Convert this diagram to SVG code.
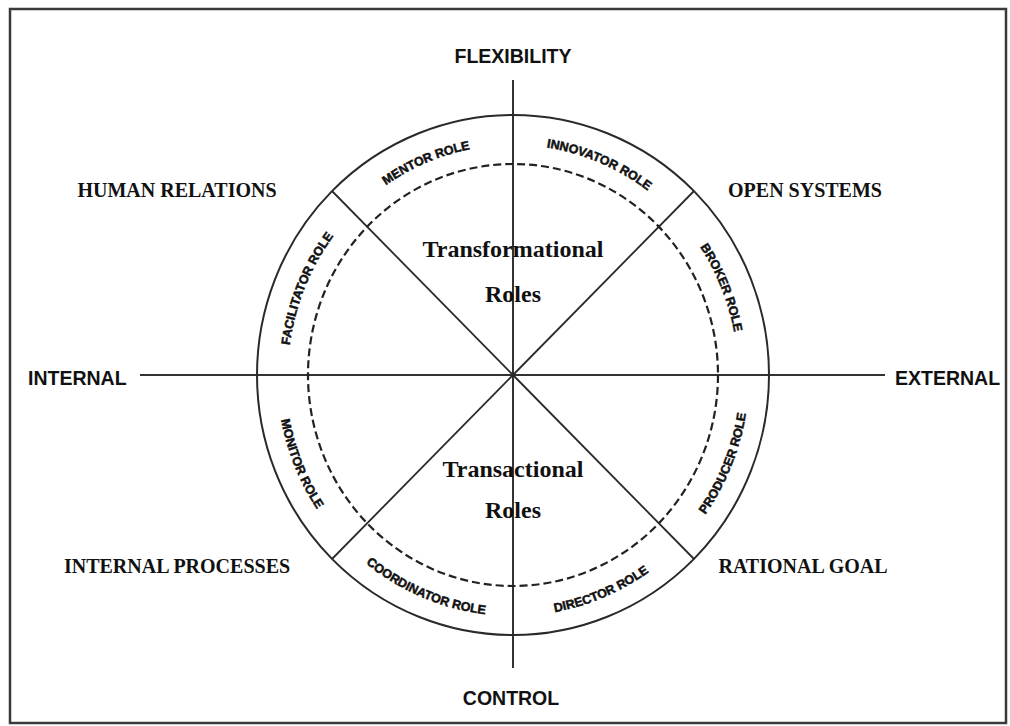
<svg xmlns="http://www.w3.org/2000/svg" xmlns:xlink="http://www.w3.org/1999/xlink" width="1010" height="726" viewBox="0 0 1010 726">
  <style>
    .frame { fill: #fff; stroke: #3a3a3a; stroke-width: 2.5; }
    .axis { stroke: #333; stroke-width: 2; fill: none; }
    .ring { stroke: #2a2a2a; stroke-width: 2; fill: none; }
    .dash { stroke: #222; stroke-width: 2.2; fill: none; stroke-dasharray: 8 4; }
    .spoke { stroke: #2a2a2a; stroke-width: 1.8; }
    .dir { font-family: "Liberation Sans", Arial, sans-serif; font-weight: bold; font-size: 19.5px; fill: #111; }
    .quad { font-family: "Liberation Serif", "Times New Roman", serif; font-weight: bold; font-size: 20px; fill: #111; }
    .core { font-family: "Liberation Serif", "Times New Roman", serif; font-weight: bold; font-size: 24px; fill: #111; text-anchor: middle; }
    .role { font-family: "Liberation Sans", Arial, sans-serif; font-weight: bold; font-size: 12.5px; fill: #111; stroke: #111; stroke-width: 0.5; text-anchor: middle; }
  </style>
  <defs>
    <!-- baseline for the upper roles: left to right over the top (clockwise) -->
    <path id="arcTop" d="M 288 375 A 225 230 0 0 1 738 375"/>
    <!-- baseline for the lower roles: left to right under the bottom (counter-clockwise) -->
    <path id="arcBottom" d="M 277 375 A 236 241 0 0 0 749 375"/>
  </defs>

  <rect class="frame" x="10" y="9" width="996" height="714"/>

  <g id="connectors">
    <line class="axis" x1="513" y1="80" x2="513" y2="668"/>
    <line class="axis" x1="140" y1="375" x2="885" y2="375"/>
    <line class="spoke" x1="513" y1="375" x2="694" y2="191"/>
    <line class="spoke" x1="513" y1="375" x2="332" y2="191"/>
    <line class="spoke" x1="513" y1="375" x2="332" y2="559"/>
    <line class="spoke" x1="513" y1="375" x2="694" y2="559"/>
  </g>

  <g id="wheel">
    <ellipse class="ring" cx="513" cy="375" rx="256" ry="260"/>
    <ellipse class="dash" cx="513" cy="375" rx="205" ry="211"/>
  </g>

  <g id="roles">
    <text class="role"><textPath xlink:href="#arcTop" href="#arcTop" startOffset="12.5%">FACILITATOR ROLE</textPath></text>
    <text class="role"><textPath xlink:href="#arcTop" href="#arcTop" startOffset="37.5%">MENTOR ROLE</textPath></text>
    <text class="role"><textPath xlink:href="#arcTop" href="#arcTop" startOffset="62.5%">INNOVATOR ROLE</textPath></text>
    <text class="role"><textPath xlink:href="#arcTop" href="#arcTop" startOffset="87.5%">BROKER ROLE</textPath></text>
    <text class="role"><textPath xlink:href="#arcBottom" href="#arcBottom" startOffset="12.5%">MONITOR ROLE</textPath></text>
    <text class="role"><textPath xlink:href="#arcBottom" href="#arcBottom" startOffset="37.5%">COORDINATOR ROLE</textPath></text>
    <text class="role"><textPath xlink:href="#arcBottom" href="#arcBottom" startOffset="62.5%">DIRECTOR ROLE</textPath></text>
    <text class="role"><textPath xlink:href="#arcBottom" href="#arcBottom" startOffset="87.5%">PRODUCER ROLE</textPath></text>
  </g>

  <g id="transformational">
    <text class="core" x="513" y="257">Transformational</text>
    <text class="core" x="513" y="302">Roles</text>
  </g>
  <g id="transactional">
    <text class="core" x="513" y="477">Transactional</text>
    <text class="core" x="513" y="518">Roles</text>
  </g>

  <g id="flexibility"><text class="dir" x="513" y="63" text-anchor="middle">FLEXIBILITY</text></g>
  <g id="control"><text class="dir" x="511" y="705" text-anchor="middle">CONTROL</text></g>
  <g id="internal"><text class="dir" x="28" y="385">INTERNAL</text></g>
  <g id="external"><text class="dir" x="895" y="385">EXTERNAL</text></g>

  <g id="human-relations"><text class="quad" x="177" y="197" text-anchor="middle">HUMAN RELATIONS</text></g>
  <g id="open-systems"><text class="quad" x="805" y="197" text-anchor="middle">OPEN SYSTEMS</text></g>
  <g id="internal-processes"><text class="quad" x="177" y="573" text-anchor="middle">INTERNAL PROCESSES</text></g>
  <g id="rational-goal"><text class="quad" x="803" y="573" text-anchor="middle">RATIONAL GOAL</text></g>
</svg>
